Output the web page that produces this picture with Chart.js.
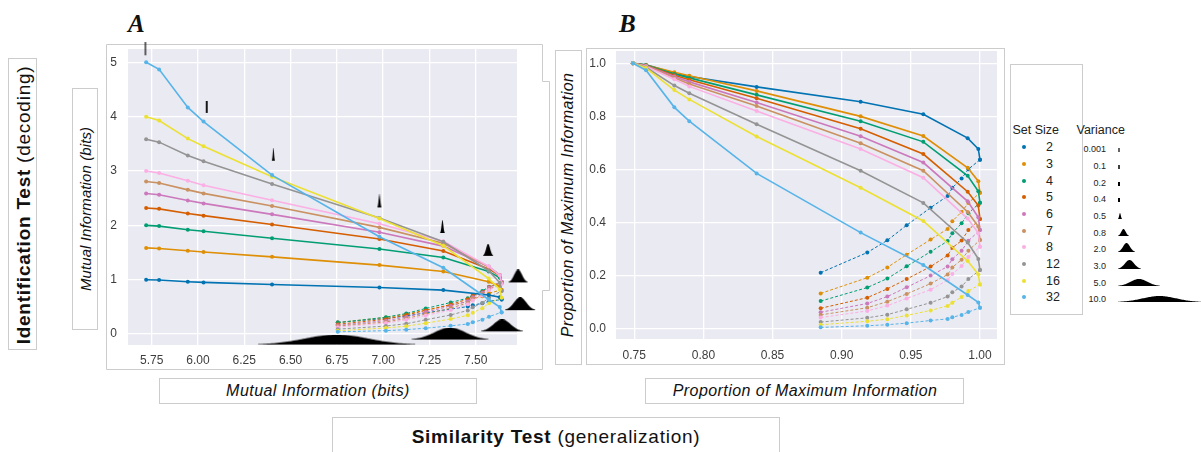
<!DOCTYPE html>
<html>
<head>
<meta charset="utf-8">
<script src="https://cdn.jsdelivr.net/npm/chart.js@4.4.1/dist/chart.umd.min.js"></script>
<style>
body { margin: 0; background: #fff; }
#fig { position: relative; width: 1201px; height: 452px; overflow: hidden; font-family: "Liberation Sans", Arial, sans-serif; color: #111; }
.box { position: absolute; border: 1px solid #cccccc; box-sizing: border-box; }
.txt { position: absolute; white-space: nowrap; line-height: 1; transform: translate(-50%, -50%); }
.rot { transform: translate(-50%, -50%) rotate(-90deg); }
.big { font-size: 19px; letter-spacing: 0.75px; }
.lab { font-style: italic; font-size: 16px; letter-spacing: 0.45px; }
.letter { position: absolute; top: 11px; font-family: "Liberation Serif", serif; font-weight: bold; font-style: italic; font-size: 25px; line-height: 25px; }
canvas { position: absolute; }
</style>
</head>
<body>
<div id="fig">
  <svg width="1201" height="452" style="position:absolute;left:0;top:0">
    <polyline points="106.5,44.5 542.5,44.5 542.5,81.5 549.5,81.5 549.5,290.5 542.5,290.5 542.5,369.5 106.5,369.5 106.5,44.5" fill="none" stroke="#cccccc" stroke-width="1"/>
  </svg>
  <div class="box" style="left:8px;top:58px;width:29px;height:292px"></div>
  <div class="box" style="left:72px;top:88px;width:26px;height:242px"></div>
  <div class="box" style="left:555px;top:50px;width:27px;height:315px"></div>
  <div class="box" style="left:586px;top:48px;width:419px;height:317px"></div>
  <div class="box" style="left:1010px;top:64px;width:73px;height:251px"></div>
  <div class="box" style="left:159px;top:378px;width:318px;height:26px"></div>
  <div class="box" style="left:645px;top:378px;width:319px;height:26px"></div>
  <div class="box" style="left:332px;top:417px;width:448px;height:45px"></div>

  <div class="letter" style="left:128px">A</div>
  <div class="letter" style="left:619px">B</div>

  <div class="txt rot big" style="left:23px;top:205px"><b>Identification Test</b> (decoding)</div>
  <div class="txt rot" style="left:85px;top:209px;font-style:italic;font-size:15px;letter-spacing:0.1px">Mutual Information (bits)</div>
  <div class="txt rot lab" style="left:568px;top:205px">Proportion of Maximum Information</div>
  <div class="txt lab" style="left:318px;top:391px">Mutual Information (bits)</div>
  <div class="txt lab" style="left:805px;top:391px">Proportion of Maximum Information</div>
  <div class="txt big" style="left:556px;top:436px"><b>Similarity Test</b> (generalization)</div>

  <canvas id="chartA" width="450" height="330" style="left:100px;top:40px"></canvas>
  <canvas id="chartB" width="420" height="330" style="left:585px;top:40px"></canvas>
</div>
<script>
var setSizes = ["2", "3", "4", "5", "6", "7", "8", "12", "16", "32"];
var variances = ["0.001", "0.1", "0.2", "0.4", "0.5", "0.8", "2.0", "3.0", "5.0", "10.0"];

// panel A: mutual information (bits)
var aSolidX = [5.72, 5.79, 5.945, 6.03, 6.40, 6.98, 7.325, 7.57, 7.63, 7.64];
var aDashX = [6.755, 7.015, 7.125, 7.23, 7.365, 7.457, 7.484, 7.536, 7.572, 7.64];
var aSolid = [
    [1.00, 0.994, 0.962, 0.950, 0.911, 0.855, 0.808, 0.718, 0.677, 0.637],
    [1.585, 1.574, 1.531, 1.510, 1.420, 1.268, 1.151, 0.961, 0.881, 0.812],
    [2.00, 1.986, 1.920, 1.890, 1.762, 1.564, 1.408, 1.152, 1.036, 0.950],
    [2.32, 2.303, 2.217, 2.178, 2.015, 1.748, 1.528, 1.198, 1.077, 0.959],
    [2.585, 2.562, 2.456, 2.404, 2.202, 1.874, 1.618, 1.241, 1.086, 0.962],
    [2.807, 2.779, 2.653, 2.588, 2.355, 1.962, 1.670, 1.235, 1.081, 0.938],
    [3.00, 2.964, 2.820, 2.739, 2.460, 2.031, 1.707, 1.245, 1.080, 0.927],
    [3.585, 3.531, 3.284, 3.180, 2.760, 2.133, 1.699, 1.165, 0.943, 0.792],
    [4.00, 3.928, 3.596, 3.456, 2.896, 2.124, 1.624, 1.020, 0.820, 0.668],
    [5.00, 4.870, 4.170, 3.910, 2.925, 1.790, 1.220, 0.635, 0.495, 0.395]
];
var aDashed = [
    [0.215, 0.287, 0.333, 0.390, 0.460, 0.505, 0.531, 0.566, 0.601, 0.637],
    [0.211, 0.304, 0.366, 0.442, 0.533, 0.596, 0.642, 0.697, 0.751, 0.812],
    [0.208, 0.310, 0.378, 0.470, 0.580, 0.660, 0.720, 0.794, 0.870, 0.950],
    [0.179, 0.272, 0.348, 0.434, 0.543, 0.641, 0.708, 0.771, 0.864, 0.959],
    [0.160, 0.246, 0.313, 0.403, 0.517, 0.605, 0.677, 0.760, 0.856, 0.962],
    [0.146, 0.222, 0.286, 0.368, 0.477, 0.573, 0.648, 0.730, 0.825, 0.938],
    [0.126, 0.201, 0.261, 0.342, 0.441, 0.549, 0.618, 0.708, 0.810, 0.927],
    [0.090, 0.147, 0.190, 0.262, 0.351, 0.434, 0.491, 0.570, 0.670, 0.792],
    [0.060, 0.112, 0.144, 0.200, 0.276, 0.344, 0.392, 0.476, 0.568, 0.668],
    [0.040, 0.062, 0.080, 0.108, 0.150, 0.185, 0.215, 0.262, 0.320, 0.400]
];
var aXTicks = [5.75, 6.00, 6.25, 6.50, 6.75, 7.00, 7.25, 7.50];
var aXLabels = ["5.75", "6.00", "6.25", "6.50", "6.75", "7.00", "7.25", "7.50"];
var aYTicks = [0, 1, 2, 3, 4, 5];
var aYLabels = ["0", "1", "2", "3", "4", "5"];

// variance glyphs placed on panel A
var glyphX = [5.716, 6.047, 6.407, 6.98, 7.32, 7.567, 7.729, 7.74, 7.642, 7.361, 6.749];
var glyphY = [5.24, 4.17, 3.30, 2.44, 1.97, 1.54, 1.06, 0.55, 0.15, 0.0, -0.11];

// panel B: proportion of maximum information
var bSolidX = [0.749, 0.7585, 0.779, 0.7898, 0.8385, 0.9137, 0.959, 0.9911, 0.9988, 1.0];
var bDashX = [0.8848, 0.9185, 0.933, 0.947, 0.9643, 0.9766, 0.98, 0.9867, 0.9916, 1.0];
var bSolid = [
    [1.0, 0.994, 0.962, 0.950, 0.911, 0.855, 0.808, 0.718, 0.677, 0.637],
    [1.0, 0.993, 0.966, 0.953, 0.896, 0.800, 0.726, 0.606, 0.556, 0.512],
    [1.0, 0.993, 0.960, 0.945, 0.881, 0.782, 0.704, 0.576, 0.518, 0.475],
    [1.0, 0.992, 0.955, 0.938, 0.868, 0.753, 0.658, 0.516, 0.464, 0.413],
    [1.0, 0.991, 0.950, 0.930, 0.852, 0.725, 0.626, 0.480, 0.420, 0.372],
    [1.0, 0.990, 0.945, 0.922, 0.839, 0.699, 0.595, 0.440, 0.385, 0.334],
    [1.0, 0.988, 0.940, 0.913, 0.820, 0.677, 0.569, 0.415, 0.360, 0.309],
    [1.0, 0.985, 0.916, 0.887, 0.770, 0.595, 0.474, 0.325, 0.263, 0.221],
    [1.0, 0.982, 0.899, 0.864, 0.724, 0.531, 0.406, 0.255, 0.205, 0.167],
    [1.0, 0.974, 0.834, 0.782, 0.585, 0.362, 0.240, 0.127, 0.099, 0.079]
];
var bDashed = [
    [0.211, 0.287, 0.333, 0.390, 0.456, 0.500, 0.531, 0.566, 0.601, 0.637],
    [0.133, 0.192, 0.231, 0.279, 0.336, 0.376, 0.405, 0.440, 0.474, 0.512],
    [0.104, 0.155, 0.189, 0.235, 0.290, 0.330, 0.360, 0.397, 0.435, 0.475],
    [0.077, 0.117, 0.150, 0.187, 0.234, 0.276, 0.305, 0.332, 0.372, 0.413],
    [0.062, 0.095, 0.121, 0.156, 0.200, 0.234, 0.262, 0.294, 0.331, 0.372],
    [0.052, 0.079, 0.102, 0.131, 0.170, 0.204, 0.231, 0.260, 0.294, 0.334],
    [0.042, 0.067, 0.087, 0.114, 0.147, 0.183, 0.206, 0.236, 0.270, 0.309],
    [0.025, 0.041, 0.053, 0.073, 0.098, 0.121, 0.137, 0.159, 0.187, 0.221],
    [0.015, 0.028, 0.036, 0.050, 0.069, 0.086, 0.098, 0.119, 0.142, 0.167],
    [0.005, 0.011, 0.015, 0.021, 0.031, 0.037, 0.043, 0.052, 0.063, 0.079]
];
var bXTicks = [0.75, 0.80, 0.85, 0.90, 0.95, 1.00];
var bXLabels = ["0.75", "0.80", "0.85", "0.90", "0.95", "1.00"];
var bYTicks = [0, 0.2, 0.4, 0.6, 0.8, 1.0];
var bYLabels = ["0.0", "0.2", "0.4", "0.6", "0.8", "1.0"];

// styles
var colors = ["#0173B2", "#DE8F05", "#029E73", "#D55E00", "#CC78BC",
              "#CA9161", "#FBAFE4", "#949494", "#ECE133", "#56B4E9"];
var glyphW = [1.2, 1.8, 3, 4, 4.5, 10, 19, 30, 42, 77, 157];
var glyphH = [13, 12, 13, 13, 13, 12, 13, 13, 12, 12, 10];
var legGlyphW = [1.2, 1.5, 2, 2, 4, 11, 17, 23, 42, 83];
var legGlyphH = [4, 4, 4, 4, 6, 7, 9, 9, 7, 6];

Chart.defaults.font.family = '"Liberation Sans", Arial, sans-serif';

var fig = document.getElementById("fig");

var plotBg = {
    id: "plotBg",
    beforeDraw: function (chart) {
        var a = chart.chartArea;
        var ctx = chart.ctx;
        ctx.save();
        ctx.fillStyle = "#EAEAF2";
        ctx.fillRect(a.left, a.top, a.right - a.left, a.bottom - a.top);
        ctx.restore();
    }
};

// black bell shape used for the variance glyphs
function makeBell(w, h) {
    var cv = document.createElement("canvas");
    cv.width = Math.ceil(w) + 2;
    cv.height = Math.ceil(h) + 1;
    var g = cv.getContext("2d");
    g.fillStyle = "#000";
    if (w < 2.6) {
        g.fillRect((cv.width - w) / 2, 0, w, h);
        return cv;
    }
    var c = cv.width / 2;
    var s = w / 5;
    g.beginPath();
    g.moveTo(c - w / 2, h);
    for (let i = 0; i <= 80; i++) {
        let x = c - w / 2 + w * i / 80;
        g.lineTo(x, h - h * Math.exp(-0.5 * Math.pow((x - c) / s, 2)));
    }
    g.lineTo(c + w / 2, h);
    g.closePath();
    g.fill();
    return cv;
}

function lineSet(xs, ys, color, dashed, order) {
    return {
        data: xs.map(function (x, i) { return {x: x, y: ys[i]}; }),
        borderColor: color,
        backgroundColor: color,
        borderWidth: dashed ? 1 : 1.6,
        borderDash: dashed ? [3, 2] : [],
        pointRadius: 2,
        pointBorderWidth: 0,
        showLine: true,
        tension: 0,
        order: order
    };
}

function seriesFor(solidX, solid, dashX, dashed) {
    var sets = [];
    for (let i = 0; i < setSizes.length; i++) {
        sets.push(lineSet(solidX, solid[i], colors[i], false, 20 - i));
        sets.push(lineSet(dashX, dashed[i], colors[i], true, 40 - i));
    }
    return sets;
}

function axis(min, max, ticks, labels, size, pad) {
    return {
        type: "linear",
        min: min,
        max: max,
        afterBuildTicks: function (s) {
            s.ticks = ticks.map(function (v) { return {value: v}; });
        },
        afterFit: function (s) {
            if (s.isHorizontal()) s.height = size; else s.width = size;
            // keep the plot box where the layout padding puts it
            s.paddingTop = 0;
            s.paddingBottom = 0;
            s.paddingLeft = 0;
            s.paddingRight = 0;
        },
        ticks: {
            autoSkip: false,
            maxRotation: 0,
            padding: pad,
            color: "#3d3d3d",
            font: {size: 12},
            callback: function (v, i) { return labels[i]; }
        },
        grid: {color: "#ffffff", lineWidth: 1.3, drawTicks: false},
        border: {display: false}
    };
}

function baseOptions(pad, xAxis, yAxis) {
    return {
        responsive: false,
        animation: false,
        devicePixelRatio: 1,
        events: [],
        layout: {padding: pad, autoPadding: false},
        plugins: {legend: {display: false}, tooltip: {enabled: false}},
        scales: {x: xAxis, y: yAxis}
    };
}

var glyphImgs = glyphW.map(function (w, i) { return makeBell(w, glyphH[i]); });
var glyphSet = {
    data: glyphX.map(function (x, i) { return {x: x, y: glyphY[i]}; }),
    pointStyle: function (c) { return glyphImgs[c.dataIndex]; },
    pointRadius: 40,
    pointHoverRadius: 40,
    pointBorderWidth: 0,
    showLine: false,
    clip: false,
    order: 0
};

new Chart(document.getElementById("chartA"), {
    type: "scatter",
    data: {datasets: seriesFor(aSolidX, aSolid, aDashX, aDashed).concat([glyphSet])},
    options: baseOptions({top: 9, right: 33, bottom: 0, left: 0},
        axis(5.622, 7.723, aXTicks, aXLabels, 25, 8),
        axis(-0.202, 5.245, aYTicks, aYLabels, 28, 11)),
    plugins: [plotBg]
});

new Chart(document.getElementById("chartB"), {
    type: "scatter",
    data: {datasets: seriesFor(bSolidX, bSolid, bDashX, bDashed)},
    options: baseOptions({top: 11, right: 8, bottom: 0, left: 0},
        axis(0.7368, 1.0123, bXTicks, bXLabels, 31, 9),
        axis(-0.0388, 1.0463, bYTicks, bYLabels, 31, 10)),
    plugins: [plotBg]
});

// legend: set sizes and variance glyphs
function putText(str, x, y, css, shift) {
    var d = document.createElement("div");
    d.textContent = str;
    d.style.cssText = "position:absolute;white-space:nowrap;line-height:1;left:" + x + "px;top:" + y +
        "px;transform:translate(" + shift + ",-50%);" + css;
    fig.appendChild(d);
}

putText("Set Size", 1012.5, 130, "font-size:12.5px;color:#222", "0");
putText("Variance", 1076.5, 130, "font-size:12.5px;color:#222", "0");
for (let i = 0; i < setSizes.length; i++) {
    let rowY = 147.3 + 16.67 * i;
    let dot = document.createElement("div");
    dot.style.cssText = "position:absolute;width:4px;height:4px;border-radius:2px;left:1022.3px;top:" +
        (rowY - 2) + "px;background:" + colors[i];
    fig.appendChild(dot);
    putText(setSizes[i], 1046, rowY, "font-size:12.5px;color:#222", "0");
    putText(variances[i], 1106, rowY + 2, "font-size:9px;color:#222", "-100%");
    let cv = makeBell(legGlyphW[i], legGlyphH[i]);
    cv.style.left = "1117px";
    cv.style.top = (rowY + 6 - cv.height) + "px";
    fig.appendChild(cv);
}
</script>
</body>
</html>
